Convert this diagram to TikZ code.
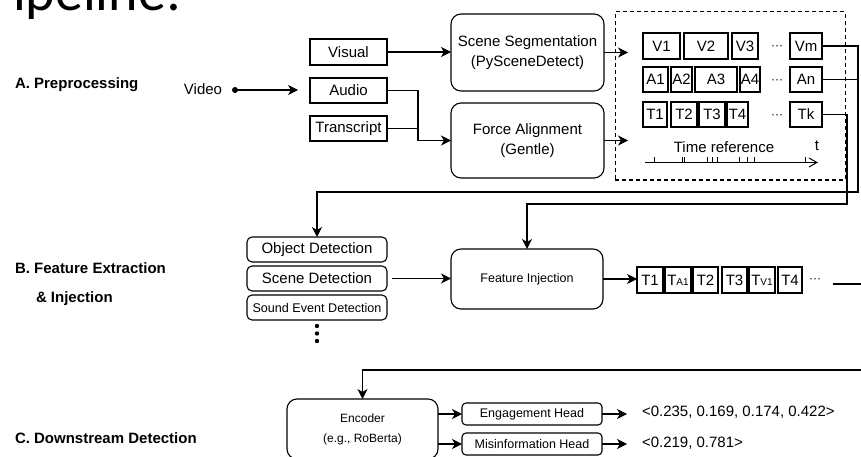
\documentclass[tikz,border=0pt]{standalone}
\usepackage{fontspec}
\setmainfont{Liberation Sans}
\newfontfamily\titlefont{Carlito}
\usetikzlibrary{arrows.meta}
\newcommand{\myfs}[1]{\fontsize{#1}{#1}\selectfont}
\begin{document}
\begin{tikzpicture}[x=1pt,y=-1pt,
  every node/.style={inner sep=0pt, outer sep=0pt},
  box/.style={draw, line width=1.3pt, minimum height=25pt, font=\myfs{15}},
  tok/.style={draw, line width=1.3pt, font=\myfs{15}},
  rbox/.style={draw, line width=1.1pt, rounded corners=10pt, align=center},
  sbox/.style={draw, line width=1.1pt, rounded corners=5pt, minimum width=140pt, minimum height=25pt},
  hbox/.style={draw, line width=1.1pt, rounded corners=4pt, minimum width=140pt, minimum height=22pt, font=\myfs{12.5}},
  conn/.style={line width=1.3pt},
  arr/.style={conn, -{Stealth[length=10pt,width=10pt,inset=3pt]}},
  sec/.style={font=\bfseries\myfs{15}, anchor=west},
  dots/.style={font=\myfs{12}},
]
\useasboundingbox (0,0) rectangle (861,457);
\clip (0,0) rectangle (861,457);

% title fragment
\node[font=\titlefont\myfs{56}, anchor=base west] (title) at (13,11) {ipeline:};

% section labels
\node[sec] (secA) at (15,85) {A. Preprocessing};
\node[sec] (secB) at (15,268) {B. Feature Extraction};
\node[sec] (secB2) at (36,299) {\& Injection};
\node[sec] (secC) at (15,438) {C. Downstream Detection};

% A. preprocessing
\node[font=\myfs{15}] (video) at (203,89) {Video};
\node[circle, fill, minimum size=6pt] (vdot) at (235,90) {};
\coordinate (vend) at (298,90);
\draw[arr] (vdot.center) -- (vend);

\node[box, minimum width=77pt, minimum height=26pt] (visual) at (348.5,52) {Visual};
\node[box, minimum width=77pt] (audio) at (348.5,90.5) {Audio};
\node[box, minimum width=77pt] (trans) at (348.5,128.5) {Transcript};

\node[rbox, minimum width=153pt, minimum height=77pt, font=\fontsize{15}{20}\selectfont] (ss) at (527.5,52.5) {Scene Segmentation\\(PySceneDetect)};
\node[rbox, minimum width=153pt, minimum height=75pt, font=\fontsize{15}{20}\selectfont] (fa) at (527.5,140.5) {Force Alignment\\(Gentle)};

\draw[arr] (visual.east) -- (visual.east -| ss.west);
\coordinate (ajT) at (418,90.5);
\coordinate (ajB) at (418,140.5);
\draw[arr] (audio.east) -- (ajT) -- (ajB) -- (ajB -| fa.west);
\draw[conn] (trans.east) -- (trans.east -| ajT);

\node[draw, dashed, dash pattern=on 4pt off 3pt, line width=1pt, minimum width=230pt, minimum height=168pt] (dbox) at (730,96) {};
\coordinate (ssin) at (628,52);
\draw[arr] (ss.east) -- (ss.east -| ssin);
\draw[arr] (fa.east) -- (fa.east -| ssin);

% V row
\node[tok, minimum width=37pt, minimum height=26pt] (V1) at (661.5,46) {V1};
\node[tok, minimum width=44pt, minimum height=26pt] (V2) at (706,46) {V2};
\node[tok, minimum width=26pt, minimum height=26pt] (V3) at (745,46) {V3};
\node[dots] (vdots) at (777,48) {···};
\node[tok, minimum width=32pt, minimum height=26pt] (Vm) at (806,46) {Vm};
% A row
\node[tok, minimum width=25pt, minimum height=25pt] (A1) at (655.5,79.5) {A1};
\node[tok, minimum width=21pt, minimum height=25pt] (A2) at (681.5,79.5) {A2};
\node[tok, minimum width=42pt, minimum height=25pt] (A3) at (716,79.5) {A3};
\node[tok, minimum width=20pt, minimum height=25pt] (A4) at (750,79.5) {A4};
\node[dots] (adots) at (777,81.5) {···};
\node[tok, minimum width=32pt, minimum height=25pt] (An) at (806,79.5) {An};
% T row
\node[tok, minimum width=24pt, minimum height=25pt] (T1) at (655,114.5) {T1};
\node[tok, minimum width=26pt, minimum height=25pt] (T2) at (684,114.5) {T2};
\node[tok, minimum width=26pt, minimum height=25pt] (T3) at (712,114.5) {T3};
\node[tok, minimum width=21pt, minimum height=25pt] (T4) at (737.5,114.5) {T4};
\node[dots] (tdots) at (777,116.5) {···};
\node[tok, minimum width=32pt, minimum height=25pt] (Tk) at (806,114.5) {Tk};

% time reference
\node[font=\myfs{15}] (tref) at (724,147) {Time reference};
\node[font=\myfs{15}] (tlab) at (817,146) {t};
\coordinate (ax0) at (645,162.5);
\coordinate (ax1) at (818,162.5);
\draw[line width=1pt, -{Straight Barb[length=8pt,width=9pt,line width=1pt]}] (ax0) -- (ax1);
\foreach \x in {654,682,684.5,707,712,717,739,747,754,805}
  \draw[line width=1pt] (\x,162.5) -- (\x,157.5);

% B. feature extraction
\node[sbox, font=\myfs{15}] (objdet) at (317,249.5) {Object Detection};
\node[sbox, font=\myfs{15}] (scdet) at (317,278.5) {Scene Detection};
\node[sbox, font=\myfs{12.6}] (snddet) at (317,307.5) {Sound Event Detection};
\fill (317,326) circle (2.2pt) (317,333.5) circle (2.2pt) (317,341) circle (2.2pt);

\node[rbox, minimum width=152pt, minimum height=60pt, font=\myfs{12.5}] (fi) at (527,279) {Feature Injection};

\coordinate (vaD) at (858,192);
\draw[arr] (Vm.east) -| (vaD) -| (objdet.north);
\draw[conn] (An.east) -- (An.east -| vaD);
\coordinate (tkD) at (847,204);
\draw[arr] (Tk.east) -| (tkD) -| (fi.north);

\draw[arr] ([xshift=5pt]scdet.east) -- (scdet.east -| fi.west);

% injected token sequence
\node[tok, minimum width=26pt, minimum height=26pt] (s1) at (650,280) {T1};
\node[tok, minimum width=26pt, minimum height=26pt] (s2) at (678,280) {T{\myfs{10}A1}};
\node[tok, minimum width=25pt, minimum height=26pt] (s3) at (705.5,280) {T2};
\node[tok, minimum width=25pt, minimum height=26pt] (s4) at (734.5,280) {T3};
\node[tok, minimum width=26pt, minimum height=26pt] (s5) at (762,280) {T{\myfs{10}V1}};
\node[tok, minimum width=24pt, minimum height=26pt] (s6) at (790,280) {T4};
\node[dots] (sdots) at (815,281) {···};
\draw[arr] (fi.east) -- (fi.east -| s1.west);

% C. downstream
\node[rbox, minimum width=151pt, minimum height=60pt, font=\fontsize{12}{20}\selectfont] (enc) at (362.5,429) {Encoder\\(e.g., RoBerta)};
\coordinate (tokout) at (833,284);
\coordinate (far) at (880,370);
\draw[arr] (tokout) -| (far) -| (enc.north);

\node[hbox] (eng) at (532,414) {Engagement Head};
\node[hbox] (mis) at (532,444) {Misinformation Head};
\draw[arr] (enc.east |- eng) -- (eng.west);
\draw[arr] (enc.east |- mis) -- (mis.west);

\node[font=\myfs{15}, anchor=west] (engout) at (642,412) {<0.235, 0.169, 0.174, 0.422>};
\node[font=\myfs{15}, anchor=west] (misout) at (642,443) {<0.219, 0.781>};
\draw[arr] (eng.east) -- ([xshift=-15pt]engout.west |- eng.east);
\draw[arr] (mis.east) -- ([xshift=-15pt]misout.west |- mis.east);
\end{tikzpicture}
\end{document}
